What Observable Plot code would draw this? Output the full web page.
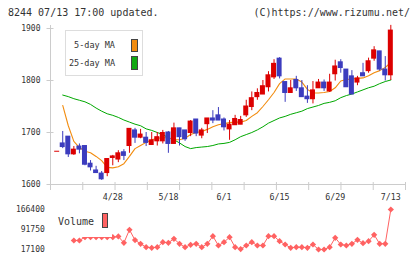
<!DOCTYPE html>
<html><head><meta charset="utf-8">
<script src="https://cdn.jsdelivr.net/npm/d3@7"></script>
<script src="https://cdn.jsdelivr.net/npm/@observablehq/plot@0.6"></script>
<style>
html,body{margin:0;padding:0;background:#fff;}
#wrap{position:relative;z-index:10;background:#fff;width:420px;height:259px;overflow:hidden;font-family:"DejaVu Sans Mono",monospace;color:#333;}
.abs{position:absolute;white-space:nowrap;}
#cover{position:absolute;left:0;top:0;width:7px;height:24px;background:#fff;z-index:100;}
</style></head><body><div id="wrap"></div>
<script>
const dates = ["4/14","4/15","4/16","4/17","4/20","4/21","4/22","4/23","4/24","4/27","4/28","4/30",
"5/1","5/7","5/8","5/11","5/12","5/13","5/14","5/15","5/18","5/19","5/20","5/21","5/22","5/25","5/26","5/27","5/28","5/29",
"6/1","6/2","6/3","6/4","6/5","6/8","6/9","6/10","6/11","6/12","6/15","6/16","6/17","6/18","6/19","6/22","6/23","6/24","6/25","6/26",
"6/29","6/30","7/1","7/2","7/3","7/6","7/7","7/8","7/9","7/10","7/13"];
const open  = [1663,1679,1692,1658,1673,1674,1640,1627,1621,1622,1651,1648,1662,1674,1704,1690,1690,1676,1683,1683,1700,1678,1708,1704,1699,1725,1694,1716,1727,1733,1725,1706,1714,1715,1733,1749,1768,1773,1787,1806,1842,1797,1776,1801,1785,1769,1764,1785,1796,1779,1812,1835,1821,1808,1796,1814,1818,1842,1856,1821,1810];
const high  = [1663,1702,1692,1673,1678,1675,1646,1635,1625,1650,1656,1665,1667,1707,1708,1706,1700,1700,1700,1704,1702,1718,1708,1704,1723,1725,1708,1727,1742,1748,1728,1723,1733,1731,1762,1778,1784,1800,1817,1840,1844,1797,1800,1808,1800,1790,1798,1802,1801,1812,1839,1840,1821,1819,1808,1833,1843,1865,1856,1846,1906];
const low   = [1663,1669,1652,1656,1659,1636,1626,1622,1608,1615,1636,1642,1646,1660,1679,1688,1673,1676,1674,1678,1660,1678,1674,1683,1692,1692,1688,1698,1717,1723,1703,1685,1714,1715,1729,1742,1762,1773,1778,1802,1803,1758,1776,1779,1768,1756,1755,1785,1779,1777,1799,1814,1787,1773,1790,1808,1814,1837,1818,1799,1800];
const close = [1663,1672,1658,1667,1667,1638,1633,1622,1610,1649,1654,1660,1655,1707,1690,1696,1680,1685,1691,1699,1678,1708,1691,1687,1721,1698,1704,1727,1723,1723,1710,1715,1726,1724,1750,1766,1776,1789,1810,1832,1808,1776,1785,1785,1768,1764,1781,1796,1785,1796,1827,1824,1787,1773,1804,1808,1837,1858,1821,1810,1896];
const ma5  = [null,1752,1713,1683,1671,1664,1661,1654,1646,1633,1632,1634,1640,1654,1669,1675,1681,1686,1689,1690,1690,1686,1686,1689,1696,1700,1702,1706,1711,1715,1717,1719,1720,1720,1723,1731,1738,1750,1763,1777,1794,1803,1803,1803,1797,1783,1776,1776,1777,1779,1786,1799,1802,1803,1804,1805,1809,1815,1819,1825,1835];
const ma25 = [null,1772,1769,1765,1762,1759,1754,1747,1741,1736,1733,1729,1724,1720,1716,1713,1707,1704,1700,1696,1690,1686,1680,1673,1669,1671,1672,1673,1675,1678,1679,1681,1686,1692,1696,1700,1705,1711,1718,1723,1728,1731,1735,1738,1741,1746,1749,1752,1756,1758,1761,1767,1771,1774,1778,1782,1786,1789,1794,1798,1801];
const volume = [null,null,null,51500,51500,64000,64000,64000,64000,64000,64000,66500,43000,91200,53000,39300,26700,24500,26700,45300,43000,57900,39300,26700,35600,39300,26700,39300,67500,33000,45300,63800,26700,20000,33000,45300,33000,33000,67500,67500,49000,36700,24500,26700,26700,24500,36700,18200,18200,26700,61600,36700,33000,39300,54100,41600,49000,72700,39300,39300,166400];
const priceTicks = [1600,1700,1800,1900];
const volTicks = [17100,91750,166400];
const labelDates = ["4/28","5/18","6/1","6/15","6/29","7/13"];
const seriesNames = ["5-day MA","25-day MA"];
const volumeName = "Volume";
const headerLeft = "8244 07/13 17:00 updated.";
const headerRight = "(C)https://www.rizumu.net/";

const RED = "#dc0000", BLUE = "#3c3cbe", ORANGE = "#f28c0f", GREEN = "#00a800", VOLC = "#ff6262", AXIS = "#cccccc";

const data = dates.map((d, i) => ({i, date: d, o: open[i], h: high[i], l: low[i], c: close[i], ma5: ma5[i], ma25: ma25[i], v: volume[i]}));
const xDom = [-1.2, 62.64];
const xTickVals = d3.range(12).map(k => xDom[0] + k * (xDom[1] - xDom[0]) / 11);
const labelIdx = labelDates.map(s => dates.indexOf(s));
const col = d => d.c >= d.o ? RED : BLUE;

const main = Plot.plot({
  width: 420, height: 205, marginLeft: 50, marginRight: 15, marginTop: 28, marginBottom: 21,
  style: {fontFamily: "DejaVu Sans Mono", color: "#333", background: "transparent", overflow: "visible"},
  x: {domain: xDom, axis: null, label: null},
  y: {domain: [1600, 1900], axis: null, label: null},
  marks: [
    Plot.ruleY([1600], {stroke: AXIS}),
    Plot.ruleX([xDom[0]], {y1: 1900, y2: 1600, insetTop: -3, insetBottom: -4, stroke: AXIS}),
    Plot.ruleX(xTickVals, {y1: 1600, y2: 1600, insetTop: -2, insetBottom: -6, stroke: AXIS}),
    Plot.ruleY(priceTicks, {x1: xDom[0], x2: xDom[0], insetLeft: -3.5, insetRight: -3.5, stroke: AXIS}),
    Plot.axisY({ticks: priceTicks, tickSize: 0, tickPadding: 10, tickFormat: d => String(d), fontSize: 8, label: null}),
    Plot.axisX({ticks: labelIdx, tickSize: 0, tickPadding: 10, tickFormat: i => dates[i], fontSize: 8.3, label: null}),
    Plot.line(data, {x: "i", y: "ma25", stroke: GREEN, strokeWidth: 1}),
    Plot.line(data, {x: "i", y: "ma5", stroke: ORANGE, strokeWidth: 1.1}),
    Plot.ruleX(data, {x: "i", y1: "h", y2: "l", stroke: col, strokeWidth: 1}),
    Plot.rect(data, {x1: d => d.i - 0.45, x2: d => d.i + 0.45, y1: "o", y2: "c", fill: col, insetTop: -0.5, insetBottom: -0.5})
  ]
});

const vol = Plot.plot({
  width: 420, height: 54, marginLeft: 50, marginRight: 15, marginTop: 4, marginBottom: 9.7,
  style: {fontFamily: "DejaVu Sans Mono", color: "#333", background: "transparent", overflow: "visible"},
  x: {domain: xDom, axis: null, label: null},
  y: {domain: [17100, 166400], axis: null, label: null},
  marks: [
    Plot.axisY({ticks: volTicks, tickSize: 0, tickPadding: 5.7, tickFormat: d => String(d), fontSize: 8, label: null}),
    Plot.line(data, {x: "i", y: "v", stroke: VOLC, strokeWidth: 1}),
    Plot.dot(data.filter(d => d.v != null), {x: "i", y: "v", symbol: "diamond2", r: 2.8, fill: VOLC, stroke: "none"})
  ]
});

const wrap = document.getElementById("wrap");
function place(el, css) { el.classList.add("abs"); Object.assign(el.style, css); wrap.appendChild(el); return el; }
function div(css, text) { const e = document.createElement("div"); if (text != null) e.textContent = text; return place(e, css); }

place(main, {left: "0px", top: "0px"});
place(vol, {left: "0px", top: "205px"});

div({left: "8px", top: "7px", fontSize: "10px", lineHeight: "12px", color: "#333"}, headerLeft);
div({right: "10px", top: "7px", fontSize: "10px", lineHeight: "12px", color: "#333"}, headerRight);

// price legend
div({left: "65px", top: "30px", width: "78px", height: "46px", boxSizing: "border-box", border: "1px solid #dddddd", background: "#fff"});
div({right: "305px", top: "40px", fontSize: "8.5px", lineHeight: "10px", color: "#333"}, seriesNames[0]);
div({right: "305px", top: "58.3px", fontSize: "8.5px", lineHeight: "10px", color: "#333"}, seriesNames[1]);
div({left: "131px", top: "38.5px", width: "6.5px", height: "13px", boxSizing: "border-box", border: "1px solid #444", background: ORANGE});
div({left: "131px", top: "55.5px", width: "6.5px", height: "14px", boxSizing: "border-box", border: "1px solid #444", background: "#11a811"});

// volume legend
div({left: "55px", top: "210px", width: "57px", height: "27px", background: "#fff"});
div({left: "58px", top: "216px", fontSize: "10px", lineHeight: "12px", color: "#333"}, volumeName);
div({left: "101.5px", top: "213.3px", width: "6.5px", height: "15px", boxSizing: "border-box", border: "1px solid #444", background: VOLC});

const cover = document.createElement("div"); cover.id = "cover"; wrap.appendChild(cover);
</script></body></html>
